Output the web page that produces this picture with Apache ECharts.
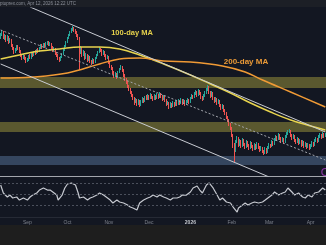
<!DOCTYPE html>
<html><head><meta charset="utf-8">
<script src="https://cdn.jsdelivr.net/npm/echarts@6/dist/echarts.min.js"></script>
<style>html,body{margin:0;padding:0;background:#131722;overflow:hidden}#c{width:326px;height:245px}</style>
</head><body><div id="c"></div><script>
// ---- data ----
const startYear = 2025, startMonth = 7, startDay = 12; // 2025-08-12
const dayCount = 244;
const monthTicks = {'2025-09-01':'Sep','2025-10-01':'Oct','2025-11-01':'Nov','2025-12-01':'Dec','2026-01-01':'2026','2026-02-01':'Feb','2026-03-01':'Mar','2026-04-01':'Apr'};
// [open, close, low, high] (relative price units)
const candles = [
[139,141,137,143],[141,144,140,146],[144,138,137,145],[138,140,136,142],[140,136,134,141],[136,139,135,141],[139,134,132,140],[134,136,133,138],[136,131,129,137],[131,128,126,132],
[128,124,122,129],[124,126,123,128],[126,129,125,131],[129,128,126,131],[128,125,123,129],[125,121,119,126],[121,118,116,122],[118,120,117,122],[120,118,116,121],[118,115,113,119],
[115,116,114,118],[116,120,115,121],[120,118,117,122],[118,122,117,123],[122,121,119,124],[121,124,120,125],[124,123,121,126],[123,126,122,127],[126,125,123,128],[125,128,124,129],
[128,130,127,132],[130,129,127,132],[129,131,128,133],[131,130,128,133],[130,132,129,134],[132,133,131,135],[133,131,130,135],[131,132,130,134],[132,129,127,133],[129,126,124,130],
[126,127,125,129],[127,123,121,128],[123,121,119,124],[121,118,116,122],[118,116,114,119],[116,119,115,120],[119,122,118,123],[122,126,121,127],[126,130,125,131],[130,134,129,135],
[134,138,133,139],[138,141,137,142],[141,144,140,145],[144,146,143,148],[146,148,145,150],[148,146,144,149],[146,144,142,147],[144,141,139,145],[141,138,136,142],[138,124,106,139],
[124,128,122,130],[128,121,119,129],[121,124,120,126],[124,118,116,125],[118,121,117,123],[121,116,114,122],[116,119,115,121],[119,115,113,120],[115,113,111,116],[113,116,112,118],
[116,114,112,117],[114,118,113,119],[118,121,117,122],[121,124,120,125],[124,127,123,129],[127,126,124,128],[126,122,120,127],[122,124,121,126],[124,121,119,125],[121,118,116,122],
[118,119,117,121],[119,114,112,120],[114,110,108,115],[110,108,106,111],[108,104,102,109],[104,100,98,105],[100,102,99,104],[102,99,97,103],[99,104,98,105],[104,107,103,108],
[107,109,106,111],[109,106,104,110],[106,101,99,107],[101,97,95,102],[97,94,92,98],[94,90,88,95],[90,87,85,91],[87,84,82,88],[84,81,79,85],[81,78,76,82],
[78,74,71,79],[74,76,73,78],[76,72,70,77],[72,75,71,77],[75,71,69,76],[71,74,70,76],[74,77,73,79],[77,75,73,78],[75,79,74,80],[79,77,76,81],
[77,80,76,82],[80,78,76,81],[78,81,77,83],[81,79,77,82],[79,77,75,80],[77,80,76,82],[80,78,76,81],[78,81,77,83],[81,79,77,82],[79,82,78,84],
[82,80,78,83],[80,77,75,81],[77,79,76,81],[79,76,74,80],[76,72,70,77],[72,73,71,75],[73,69,67,74],[69,72,68,74],[72,70,68,73],[70,73,69,75],
[73,71,69,74],[71,74,70,76],[74,72,70,75],[72,75,71,77],[75,73,71,76],[73,76,72,78],[76,73,71,77],[73,75,72,77],[75,72,70,76],[72,74,71,76],
[74,76,73,78],[76,74,72,77],[74,78,73,79],[78,80,77,82],[80,79,77,81],[79,82,78,84],[82,84,81,86],[84,81,79,85],[81,85,80,87],[85,83,81,86],
[83,79,77,84],[79,77,75,80],[77,80,76,82],[80,83,79,85],[83,86,82,88],[86,89,85,91],[89,84,82,90],[84,80,78,85],[80,83,79,85],[83,78,76,84],
[78,75,73,79],[75,77,74,79],[77,73,71,78],[73,75,72,77],[75,71,69,76],[71,68,66,72],[68,70,67,72],[70,66,64,71],[66,63,61,67],[63,59,57,64],
[59,56,54,60],[56,52,50,57],[52,48,46,53],[48,41,39,49],[41,31,28,42],[31,26,14,33],[26,34,24,36],[34,38,33,40],[38,31,29,39],[31,35,30,37],
[35,30,28,36],[30,36,29,38],[36,32,30,37],[32,29,27,33],[29,34,28,36],[34,31,29,35],[31,28,26,32],[28,33,27,35],[33,30,28,34],[30,27,25,31],
[27,31,26,33],[31,28,26,32],[28,32,27,34],[32,29,27,33],[29,26,24,30],[26,28,25,30],[28,25,23,29],[25,23,21,26],[23,27,22,29],[27,24,22,28],
[24,28,23,30],[28,31,27,33],[31,30,28,32],[30,34,29,36],[34,32,30,35],[32,36,31,38],[36,39,35,41],[39,37,35,40],[37,41,36,43],[41,38,36,42],
[38,35,33,39],[35,37,34,39],[37,34,32,38],[34,39,33,41],[39,42,38,44],[42,44,41,46],[44,45,43,47],[45,41,39,46],[41,38,36,42],[38,40,37,42],
[40,36,34,41],[36,34,32,37],[34,37,33,39],[37,33,31,38],[33,35,32,37],[35,31,29,36],[31,34,30,36],[34,30,28,35],[30,32,29,34],[32,29,27,33],
[29,31,28,33],[31,28,26,32],[28,30,27,32],[30,33,29,35],[33,31,29,34],[31,35,30,37],[35,37,34,39],[37,35,33,38],[35,39,34,41],[39,41,38,43],
[41,39,37,42],[39,42,38,44],[42,40,38,43],[40,41,39,43]
];
// moving averages, [dayIndex, value]
const ma100 = [[0,117],[14,121],[29,125],[44,127],[59,129],[74,129],[89,127],[104,121],[122,112],[142,101],[157,92],[172,83],[187,73],[202,64],[217,56],[232,50],[243,46]];
const ma200 = [[0,98],[24,99],[50,103],[74,112],[89,117],[104,118],[122,115],[142,114],[166,110],[183,104],[196,96],[217,84],[243,69]];
// channel lines, [dayIndex, value]
const upperLine = [[22,169],[243,44]];
const midLine = [[0,146],[243,16]];
const lowerLine = [[0,112],[201,-1]];
// horizontal zones [low, high]
const yellowZones = [[88,99],[44,54]];
const blueZones = [[11,20]];
const lastMarker = [[243,4]];
// RSI [dayIndex, value]
const rsi = [[0,66.3],[2,51.7],[5,44.4],[7,48],[9,42.6],[12,44.4],[14,38.9],[17,42.6],[20,38.9],[22,44.4],[24,48],[27,51.7],[29,57.1],[32,60.8],[35,57.1],[37,57.1],[39,53.5],[42,48],[43,38.9],[46,48],[48,60.8],[50,68.1],[53,69.9],[56,66.3],[58,51.7],[59,42.6],[62,44.4],[65,38.9],[67,42.6],[69,44.4],[72,48],[74,51.7],[77,48],[80,42.6],[82,38.9],[84,33.5],[87,38.9],[89,35.3],[92,33.5],[95,29.8],[97,26.2],[99,24.4],[102,20.7],[104,33.5],[107,38.9],[110,42.6],[112,44.4],[114,48],[117,44.4],[119,48],[122,44.4],[124,42.6],[127,38.9],[129,42.6],[132,42.6],[134,44.4],[136,48],[139,48],[142,53.5],[144,60.8],[147,64.4],[149,57.1],[151,51.7],[154,66.3],[156,69.9],[159,60.8],[162,48],[164,38.9],[166,42.6],[169,35.3],[172,33.5],[174,26.2],[177,17.1],[178,24.4],[181,29.8],[183,33.5],[185,29.8],[188,33.5],[190,35.3],[193,33.5],[196,35.3],[198,38.9],[200,42.6],[203,48],[205,53.5],[208,48],[211,51.7],[213,53.5],[215,60.8],[218,53.5],[220,48],[223,51.7],[226,44.4],[228,42.6],[230,48],[233,44.4],[235,51.7],[238,53.5],[241,60.8],[243,57.1]];
const rsiLevels = [70,50,30];

// ---- chart ----
const categories = [];
for (let k = 0; k < dayCount; k++) {
  categories.push(new Date(Date.UTC(startYear, startMonth, startDay + k)).toISOString().slice(0,10));
}
const zoneData = [];
yellowZones.forEach(z => zoneData.push([{yAxis:z[0], itemStyle:{color:'#5a582f'}},{yAxis:z[1]}]));
blueZones.forEach(z => zoneData.push([{yAxis:z[0], itemStyle:{color:'#35465f'}},{yAxis:z[1]}]));

const chart = echarts.init(document.getElementById('c'), null, {renderer:'canvas'});
chart.setOption({
  backgroundColor:'#131722',
  animation:false,
  grid:[
    {left:0,right:0,top:8,height:168},
    {left:0,right:0,top:178,height:39}
  ],
  xAxis:[
    {type:'category',gridIndex:0,data:categories,boundaryGap:true,
     axisLine:{show:true,lineStyle:{color:'#a3a6ad',width:1}},axisTick:{show:false},axisLabel:{show:false},splitLine:{show:false}},
    {type:'category',gridIndex:1,data:categories,boundaryGap:true,
     axisLine:{show:true,lineStyle:{color:'#262a35'}},axisTick:{show:false},splitLine:{show:false},
     axisLabel:{show:true,margin:3,fontSize:5,color:'#7c808b',fontFamily:'Liberation Sans',
       interval:(i,v)=>monthTicks[v]!==undefined,
       formatter:(v)=>monthTicks[v]==='2026' ? '{b|2026}' : (monthTicks[v]||''),
       rich:{b:{fontSize:5,fontWeight:'bold',color:'#c3c6cd',fontFamily:'Liberation Sans'}}}}
  ],
  yAxis:[
    {type:'value',gridIndex:0,min:0,max:168,show:false,splitLine:{show:false}},
    {type:'value',gridIndex:1,min:8,max:79,show:false,splitLine:{show:false}}
  ],
  series:[
    {type:'candlestick',xAxisIndex:0,yAxisIndex:0,data:candles,barWidth:1,
     itemStyle:{color:'#26a69a',color0:'#ef5350',borderColor:'#26a69a',borderColor0:'#ef5350',borderWidth:1},
     markArea:{silent:true,data:zoneData},z:3},
    {type:'line',xAxisIndex:0,yAxisIndex:0,data:ma100,smooth:0.4,showSymbol:false,symbol:'none',lineStyle:{color:'#e8d44e',width:1.5},z:5},
    {type:'line',xAxisIndex:0,yAxisIndex:0,data:ma200,smooth:0.4,showSymbol:false,symbol:'none',lineStyle:{color:'#f09a35',width:1.5},z:5},
    {type:'line',xAxisIndex:0,yAxisIndex:0,data:upperLine,showSymbol:false,symbol:'none',lineStyle:{color:'#c9ccd3',width:1},z:6},
    {type:'line',xAxisIndex:0,yAxisIndex:0,data:midLine,showSymbol:false,symbol:'none',lineStyle:{color:'#a4a7ae',width:1,type:[2,2]},z:6},
    {type:'line',xAxisIndex:0,yAxisIndex:0,data:lowerLine,showSymbol:false,symbol:'none',lineStyle:{color:'#c9ccd3',width:1},z:6},
    {type:'scatter',xAxisIndex:0,yAxisIndex:0,data:lastMarker,symbol:'circle',symbolSize:7,clip:false,
     itemStyle:{color:'rgba(0,0,0,0)',borderColor:'#a63cc0',borderWidth:1.2},z:7},
    {type:'line',xAxisIndex:1,yAxisIndex:1,data:rsi,showSymbol:false,symbol:'none',lineStyle:{color:'#c6c9d0',width:1.2},
     markLine:{silent:true,symbol:'none',label:{show:false},lineStyle:{color:'#4b505c',type:[2,2],width:1},
       data:rsiLevels.map(l=>({yAxis:l}))}}
  ],
  graphic:[
    {type:'rect',shape:{x:0,y:0,width:326,height:7},style:{fill:'#1c1f26'},z:100},
    {type:'text',x:0,y:1,style:{text:'ptoprex.com, Apr 12, 2026 12:22 UTC',font:'4.5px Liberation Sans',fill:'#8d919b'},z:101},
    {type:'rect',shape:{x:0,y:225,width:326,height:20},style:{fill:'#1e1e1e'},z:100},
    {type:'text',x:132,y:33,style:{text:'100-day MA',font:'bold 7.5px Liberation Sans',fill:'#e3cf4b',align:'center',verticalAlign:'middle'},z:101},
    {type:'text',x:246,y:62,style:{text:'200-day MA',font:'bold 8px Liberation Sans',fill:'#eb9a37',align:'center',verticalAlign:'middle'},z:101}
  ]
});
</script></body></html>
